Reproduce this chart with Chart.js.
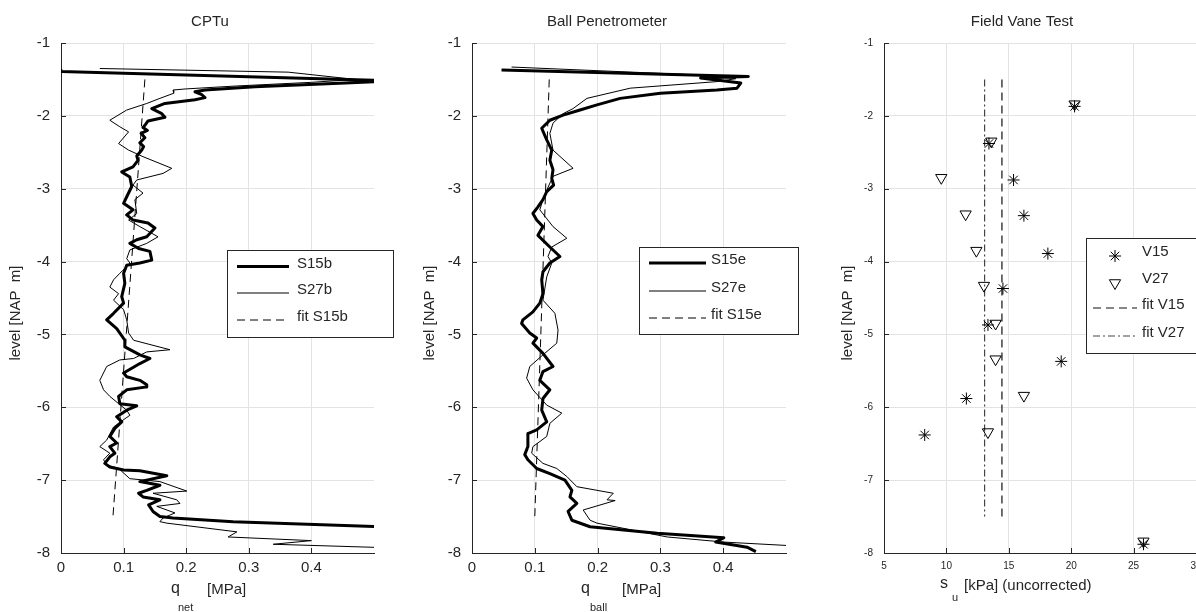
<!DOCTYPE html>
<html><head><meta charset="utf-8">
<script src="https://cdn.jsdelivr.net/npm/chart.js@4/dist/chart.umd.min.js"></script>
<style>
html,body{margin:0;padding:0;background:#fff;overflow:hidden;width:1196px;height:612px;position:relative}
canvas{position:absolute;top:0}
</style></head><body>
<canvas id="c1" style="left:0px"></canvas>
<canvas id="c2" style="left:400px"></canvas>
<canvas id="c3" style="left:800px"></canvas>
<script>
// ---------- DATA ----------
const levelTicks = [-1,-2,-3,-4,-5,-6,-7,-8];
const qTicks = [0,0.1,0.2,0.3,0.4];
const suTicks = [5,10,15,20,25,30];

// CPTu, S15b
const s15bQnet = [0,0,0.53,0.454,0.31,0.23,0.214,0.225,0.23,0.214,0.166,0.145,0.161,0.166,0.139,0.134,0.131,0.138,0.128,0.134,0.126,0.132,0.129,0.121,0.123,0.115,0.097,0.110,0.113,0.105,0.100,0.115,0.105,0.115,0.139,0.150,0.137,0.121,0.110,0.124,0.142,0.145,0.126,0.105,0.100,0.102,0.097,0.100,0.084,0.073,0.089,0.102,0.102,0.126,0.142,0.126,0.100,0.105,0.126,0.137,0.137,0.105,0.092,0.094,0.121,0.105,0.089,0.097,0.086,0.078,0.089,0.078,0.086,0.078,0.070,0.078,0.100,0.126,0.169,0.126,0.158,0.137,0.124,0.131,0.158,0.140,0.147,0.158,0.179,0.275,0.53];
const s15bLevel = [-1.37,-1.39,-1.52,-1.55,-1.60,-1.645,-1.67,-1.71,-1.75,-1.78,-1.83,-1.90,-1.97,-2.02,-2.07,-2.13,-2.16,-2.20,-2.24,-2.30,-2.37,-2.42,-2.47,-2.55,-2.61,-2.70,-2.77,-2.84,-2.97,-3.11,-3.20,-3.29,-3.36,-3.43,-3.47,-3.54,-3.66,-3.70,-3.75,-3.82,-3.86,-3.98,-4.02,-4.05,-4.16,-4.30,-4.48,-4.57,-4.71,-4.80,-4.92,-5.08,-5.17,-5.28,-5.33,-5.40,-5.53,-5.58,-5.63,-5.69,-5.72,-5.76,-5.85,-5.95,-5.98,-6.04,-6.13,-6.20,-6.29,-6.40,-6.49,-6.54,-6.63,-6.68,-6.77,-6.82,-6.86,-6.87,-6.94,-7.02,-7.07,-7.14,-7.18,-7.23,-7.27,-7.34,-7.43,-7.50,-7.52,-7.57,-7.645];

// CPTu, S27b
const s27bQnet = [0.062,0.363,0.47,0.40,0.28,0.20,0.179,0.18,0.158,0.137,0.105,0.078,0.094,0.108,0.092,0.108,0.131,0.177,0.163,0.121,0.115,0.131,0.118,0.121,0.108,0.126,0.155,0.137,0.110,0.105,0.110,0.105,0.094,0.084,0.078,0.092,0.084,0.100,0.105,0.108,0.116,0.174,0.137,0.116,0.094,0.073,0.062,0.068,0.078,0.092,0.105,0.110,0.100,0.084,0.073,0.062,0.078,0.068,0.073,0.084,0.092,0.110,0.158,0.201,0.147,0.185,0.190,0.153,0.182,0.163,0.158,0.169,0.281,0.267,0.40,0.339,0.53];
const s27bLevel = [-1.35,-1.40,-1.50,-1.54,-1.59,-1.63,-1.645,-1.69,-1.76,-1.83,-1.92,-2.06,-2.15,-2.22,-2.38,-2.47,-2.56,-2.72,-2.79,-2.88,-2.95,-3.06,-3.15,-3.34,-3.43,-3.52,-3.66,-3.75,-3.84,-3.96,-4.02,-4.07,-4.16,-4.25,-4.35,-4.44,-4.53,-4.66,-4.80,-4.98,-5.08,-5.21,-5.24,-5.33,-5.35,-5.44,-5.63,-5.76,-5.85,-5.95,-6.04,-6.11,-6.17,-6.27,-6.45,-6.54,-6.63,-6.72,-6.79,-6.82,-6.84,-6.98,-7.02,-7.15,-7.18,-7.27,-7.32,-7.36,-7.45,-7.52,-7.57,-7.59,-7.71,-7.78,-7.83,-7.88,-7.93];

// CPTu, fit S15b
const fitS15bQnet = [0.134,0.083];
const fitS15bLevel = [-1.5,-7.5];

// Ball, S15e
const s15eQball = [0.047,0.44,0.364,0.428,0.422,0.39,0.30,0.236,0.199,0.172,0.145,0.124,0.111,0.119,0.127,0.124,0.129,0.127,0.130,0.119,0.113,0.105,0.097,0.103,0.113,0.105,0.124,0.140,0.124,0.113,0.111,0.113,0.108,0.097,0.081,0.079,0.092,0.103,0.097,0.113,0.129,0.113,0.108,0.124,0.113,0.111,0.119,0.103,0.089,0.089,0.084,0.089,0.103,0.124,0.148,0.159,0.156,0.167,0.153,0.159,0.188,0.295,0.401,0.388,0.438,0.452];
const s15eLevel = [-1.37,-1.46,-1.48,-1.55,-1.62,-1.645,-1.69,-1.76,-1.85,-1.92,-1.99,-2.06,-2.17,-2.33,-2.47,-2.61,-2.74,-2.86,-2.95,-3.04,-3.15,-3.25,-3.34,-3.43,-3.52,-3.64,-3.80,-3.93,-4.02,-4.14,-4.25,-4.44,-4.57,-4.69,-4.80,-4.85,-4.98,-5.05,-5.12,-5.26,-5.44,-5.51,-5.63,-5.76,-5.88,-6.04,-6.20,-6.31,-6.36,-6.54,-6.65,-6.72,-6.84,-6.91,-7.00,-7.14,-7.23,-7.32,-7.43,-7.55,-7.64,-7.73,-7.79,-7.85,-7.92,-7.98];

// Ball, S27e
const s27eQball = [0.063,0.364,0.42,0.39,0.252,0.183,0.161,0.145,0.129,0.124,0.129,0.161,0.129,0.119,0.113,0.108,0.129,0.151,0.127,0.121,0.127,0.119,0.113,0.132,0.137,0.135,0.113,0.092,0.087,0.097,0.119,0.143,0.124,0.119,0.097,0.095,0.113,0.135,0.151,0.167,0.225,0.215,0.228,0.177,0.188,0.199,0.311,0.401,0.53];
const s27eLevel = [-1.33,-1.44,-1.49,-1.53,-1.62,-1.76,-1.90,-1.97,-2.10,-2.24,-2.47,-2.72,-2.83,-3.02,-3.15,-3.29,-3.52,-3.68,-3.80,-3.93,-4.02,-4.21,-4.53,-4.71,-4.94,-5.12,-5.28,-5.44,-5.60,-5.76,-5.97,-6.08,-6.22,-6.40,-6.54,-6.63,-6.77,-6.84,-6.95,-7.09,-7.18,-7.27,-7.28,-7.41,-7.55,-7.59,-7.78,-7.85,-7.91];

// Ball, fit S15e
const fitS15eQball = [0.123,0.100];
const fitS15eLevel = [-1.5,-7.5];

// Field vane
const v15Su = [20.27,13.41,15.38,16.21,18.13,14.53,13.33,19.20,11.60,8.26,25.79];
const v15Level = [-1.87,-2.38,-2.88,-3.37,-3.89,-4.37,-4.87,-5.37,-5.88,-6.38,-7.88];
const v27Su = [20.27,13.60,9.59,11.54,12.40,13.01,13.94,13.94,16.21,13.33,25.79];
const v27Level = [-1.84,-2.35,-2.85,-3.35,-3.85,-4.33,-4.85,-5.34,-5.84,-6.34,-7.84];
const fitV15Su = [14.45,14.45];
const fitV15Level = [-1.5,-7.5];
const fitV27Su = [13.06,13.06];
const fitV27Level = [-1.5,-7.5];

// ---------- DRAWING ----------
const FONT = '"Liberation Sans", Arial, Helvetica, sans-serif';
const INK = '#262626';
function pts(xs, ys){ return xs.map((x,i)=>({x:x, y:ys[i]})); }
function fmt(v){ return String(Math.round(v*10)/10); }

function makePanel(id, spec){
  const cv = document.getElementById(id);
  cv.width = spec.width; cv.height = 612;
  cv.style.width = spec.width+'px'; cv.style.height = '612px';
  const L = spec.left;
  const decor = {
    id: 'decor'+id,
    afterDraw(chart){
      const ctx = chart.ctx;
      const ca = chart.chartArea;
      ctx.save();
      // inward tick marks
      ctx.strokeStyle = INK; ctx.lineWidth = 1;
      const xs = chart.scales.x, ys = chart.scales.y;
      xs.ticks.forEach(t=>{
        const px = Math.round(xs.getPixelForValue(t.value))+0.5;
        if (px > ca.left+1 && px < ca.right-1){
          ctx.beginPath(); ctx.moveTo(px, ca.bottom); ctx.lineTo(px, ca.bottom-5); ctx.stroke();
        }
      });
      ys.ticks.forEach(t=>{
        const py = Math.round(ys.getPixelForValue(t.value))+0.5;
        if (py > ca.top-1 && py < ca.bottom-1){
          ctx.beginPath(); ctx.moveTo(ca.left, py); ctx.lineTo(ca.left+5, py); ctx.stroke();
        }
      });
      // title
      ctx.fillStyle = INK;
      ctx.font = '15px '+FONT; ctx.textAlign='center'; ctx.textBaseline='middle';
      ctx.fillText(spec.title, spec.titleX - L, 22);
      // y label
      ctx.save();
      ctx.translate(spec.yLabelX - L, 313); ctx.rotate(-Math.PI/2);
      ctx.fillText('level [NAP  m]', 0, 0);
      ctx.restore();
      // x label with subscript
      ctx.textAlign='left';
      spec.xLabel.forEach(p=>{
        ctx.font = p.size+'px '+FONT;
        ctx.fillText(p.text, p.x - L, p.y);
      });
      // legend
      const lg = spec.legend;
      ctx.fillStyle = '#fff';
      ctx.fillRect(lg.x - L, lg.y, lg.w, lg.h);
      ctx.strokeStyle = INK; ctx.lineWidth = 1;
      ctx.strokeRect(lg.x - L + 0.5, lg.y + 0.5, lg.w, lg.h);
      chart.data.datasets.forEach((ds,i)=>{
        const ty = lg.rows[i];
        ctx.save();
        if (ds.showLine){
          ctx.strokeStyle = ds.borderColor; ctx.lineWidth = ds.borderWidth;
          ctx.setLineDash(ds.borderDash || []);
          ctx.beginPath(); ctx.moveTo(lg.lx0 - L, ty + 3); ctx.lineTo(lg.lx1 - L, ty + 3); ctx.stroke();
        } else {
          ctx.strokeStyle = ds.pointBorderColor; ctx.fillStyle='rgba(0,0,0,0)';
          Chart.helpers.drawPoint(ctx, {pointStyle: ds.pointStyle, radius: ds.pointRadius, rotation: ds.rotation||0, borderWidth: ds.pointBorderWidth}, lg.mx - L, ty + 4.5);
        }
        ctx.restore();
        ctx.fillStyle = INK; ctx.font = '15px '+FONT; ctx.textAlign='left'; ctx.textBaseline='middle';
        ctx.fillText(ds.label, lg.tx - L, ty);
      });
      ctx.restore();
    }
  };
  new Chart(cv, {
    type: 'scatter',
    data: {datasets: spec.datasets},
    options: {
      responsive: false, animation: false, devicePixelRatio: 1,
      layout: {padding: {left: 0, top: 43, right: spec.width - (spec.x1 - L), bottom: 0}},
      plugins: {legend: {display: false}, tooltip: {enabled: false}, title: {display: false}},
      elements: {line: {tension: 0}},
      scales: {
        x: {
          type: 'linear', position: 'bottom', min: spec.xmin, max: spec.xmax,
          afterBuildTicks: s => { s.ticks = spec.xTicks.map(v=>({value:v})); },
          ticks: {font: {family: FONT, size: spec.tickSize}, color: INK, padding: spec.xPad, maxRotation: 0, autoSkip: false,
                  callback: v => fmt(v)},
          grid: {color: '#e3e3e3', lineWidth: 1, drawTicks: false},
          border: {display: true, color: INK, width: 1},
          afterFit: s => { s.height = 59; s.paddingLeft = 0; s.paddingRight = 0; }
        },
        y: {
          type: 'linear', position: 'left', min: -8, max: -1,
          afterBuildTicks: s => { s.ticks = levelTicks.map(v=>({value:v})); },
          ticks: {font: {family: FONT, size: spec.tickSize}, color: INK, padding: 11, autoSkip: false,
                  callback: v => String(v)},
          grid: {color: '#e3e3e3', lineWidth: 1, drawTicks: false},
          border: {display: true, color: INK, width: 1},
          afterFit: s => { s.width = spec.x0 - L; }
        }
      }
    },
    plugins: [decor]
  });
}

function lineDs(label, xs, ys, width, dash, color){
  return {label: label, data: pts(xs, ys), showLine: true, borderColor: color||'#000', backgroundColor: 'rgba(0,0,0,0)',
          borderWidth: width, borderDash: dash||[], pointRadius: 0, pointHoverRadius: 0, borderJoinStyle: 'round', borderCapStyle: 'butt'};
}

makePanel('c1', {
  left: 0, width: 400, x0: 61, x1: 374, xmin: 0, xmax: 0.5, xTicks: qTicks, tickSize: 15, xPad: 6,
  title: 'CPTu', titleX: 210, yLabelX: 16,
  xLabel: [{text:'q', size:16, x:171, y:589}, {text:'net', size:11, x:178, y:608}, {text:'[MPa]', size:15, x:207, y:590}],
  legend: {x: 227, y: 250, w: 166, h: 87, rows: [263.5, 290, 317], lx0: 237, lx1: 289, tx: 297},
  datasets: [
    lineDs('S15b', s15bQnet, s15bLevel, 3),
    lineDs('S27b', s27bQnet, s27bLevel, 1),
    lineDs('fit S15b', fitS15bQnet, fitS15bLevel, 1, [8,5])
  ]
});

makePanel('c2', {
  left: 400, width: 400, x0: 472, x1: 786, xmin: 0, xmax: 0.5, xTicks: qTicks, tickSize: 15, xPad: 6,
  title: 'Ball Penetrometer', titleX: 607, yLabelX: 430,
  xLabel: [{text:'q', size:16, x:581, y:589}, {text:'ball', size:11, x:590, y:608}, {text:'[MPa]', size:15, x:622, y:590}],
  legend: {x: 639, y: 247, w: 159, h: 87, rows: [260, 288, 315], lx0: 649, lx1: 706, tx: 711},
  datasets: [
    lineDs('S15e', s15eQball, s15eLevel, 3),
    lineDs('S27e', s27eQball, s27eLevel, 1),
    lineDs('fit S15e', fitS15eQball, fitS15eLevel, 1, [8,5])
  ]
});

makePanel('c3', {
  left: 800, width: 420, x0: 884, x1: 1196, xmin: 5, xmax: 30, xTicks: suTicks, tickSize: 10, xPad: 7,
  title: 'Field Vane Test', titleX: 1022, yLabelX: 848,
  xLabel: [{text:'s', size:16, x:940, y:584}, {text:'u', size:11, x:952, y:598}, {text:'[kPa] (uncorrected)', size:15, x:964, y:586}],
  legend: {x: 1086, y: 238, w: 130, h: 115, rows: [251.5, 278.5, 305, 333], lx0: 1093, lx1: 1137, mx: 1115, tx: 1142},
  datasets: [
    {label: 'V15', data: pts(v15Su, v15Level), showLine: false, pointStyle: 'star', pointRadius: 6, pointHoverRadius: 6,
     pointBorderColor: '#000', pointBackgroundColor: 'rgba(0,0,0,0)', pointBorderWidth: 1},
    {label: 'V27', data: pts(v27Su, v27Level), showLine: false, pointStyle: 'triangle', rotation: 180, pointRotation: 180, pointRadius: 6.5, pointHoverRadius: 6.5,
     pointBorderColor: '#000', pointBackgroundColor: 'rgba(0,0,0,0)', pointBorderWidth: 1},
    lineDs('fit V15', fitV15Su, fitV15Level, 1.2, [8,5], '#111'),
    lineDs('fit V27', fitV27Su, fitV27Level, 1.2, [7,3,2,3], '#444')
  ]
});
</script>
</body></html>
